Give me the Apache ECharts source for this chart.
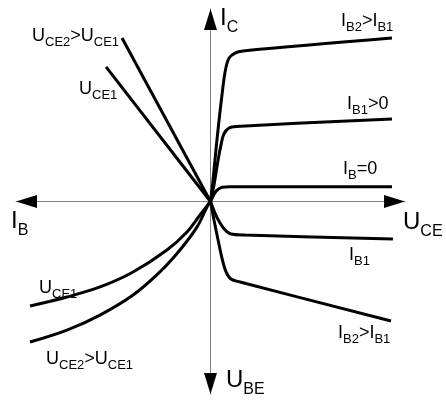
<!DOCTYPE html>
<html>
<head>
<meta charset="utf-8">
<script src="https://cdn.jsdelivr.net/npm/echarts@6/dist/echarts.min.js"></script>
<style>
  html, body { margin: 0; padding: 0; background: #fff; }
  #chart { width: 446px; height: 400px; }
</style>
</head>
<body>
<div id="chart"></div>
<script>
// Transistor characteristics in four quadrants (schematic units, origin at centre).
// Quadrant I: output characteristics I_C(U_CE) for several base currents
const outIB0 = [[0, 0], [0.12, 0.25], [0.3, 0.55], [0.6, 0.74], [1.0, 0.77], [9.33, 0.77]];
const outIB1 = [[0, 0], [0.18, 0.86], [0.39, 2.16], [0.54, 2.94], [0.69, 3.51], [0.95, 3.82], [1.31, 3.9], [9.33, 4.29]];
const outIB2 = [[0, 0], [0.13, 1.12], [0.28, 2.68], [0.44, 4.23], [0.59, 5.53], [0.75, 6.73], [0.95, 7.45], [1.26, 7.71], [1.67, 7.82], [9.33, 8.49]];
// Quadrant II: current transfer I_C(I_B)
const transUCE1 = [[0, 0], [-5.37, 6.99]];
const transUCE2 = [[0, 0], [-4.55, 8.49]];
// Quadrant III: input characteristics U_BE(I_B)
const inUCE1 = [[0, 0], [-0.54, -0.7], [-1.21, -1.58], [-2.24, -2.52], [-3.98, -3.66], [-5.68, -4.44], [-7.38, -4.96], [-9.28, -5.43]];
const inUCE2 = [[0, 0], [-0.13, -0.18], [-0.69, -1.32], [-1.57, -2.52], [-2.6, -3.66], [-3.98, -4.86], [-5.68, -5.9], [-7.38, -6.68], [-9.28, -7.3]];
// Quadrant IV: feedback U_BE(U_CE)
const fbIB1 = [[0, 0], [0.23, -0.6], [0.49, -1.12], [0.75, -1.48], [1.05, -1.69], [1.77, -1.74], [9.38, -1.95]];
const fbIB2 = [[0, 0], [0.18, -0.96], [0.39, -2.0], [0.59, -2.94], [0.8, -3.66], [1.05, -4.03], [1.52, -4.18], [9.28, -6.21]];
// Axis extent and arrow-head positions
const axisMin = -10, axisMax = 10;
const arrowTips = [[axisMax, 0], [axisMin, 0], [0, axisMax], [0, axisMin]];

const FONT = "'Liberation Sans', Arial, Helvetica, sans-serif";

const chart = echarts.init(document.getElementById('chart'), null, { renderer: 'canvas' });

function curve(data, smooth) {
  return {
    type: 'line',
    data: data,
    showSymbol: false,
    smooth: smooth ? 0.35 : false,
    lineStyle: { color: '#000', width: 3 },
    silent: true,
    z: 3
  };
}

// rich-text label: parts alternate main / subscript
const labelRich = {
  m: { fontFamily: FONT, fontSize: 18, lineHeight: 18, padding: [0, 0, 4, 0], verticalAlign: 'bottom', color: '#000' },
  s: { fontFamily: FONT, fontSize: 13, lineHeight: 13, verticalAlign: 'bottom', color: '#000' }
};
const axisRich = {
  m: { fontFamily: FONT, fontSize: 24, lineHeight: 24, padding: [0, 0, 6, 0], verticalAlign: 'bottom', color: '#000' },
  s: { fontFamily: FONT, fontSize: 16, lineHeight: 16, verticalAlign: 'bottom', color: '#000' }
};
function richText(parts) {
  return parts.map((p, i) => '{' + (i % 2 === 0 ? 'm' : 's') + '|' + p + '}').join('');
}
function label(x, y, parts, rich) {
  return {
    type: 'text',
    x: x, y: y,
    silent: true,
    style: {
      text: richText(parts),
      rich: rich,
      align: 'left',
      verticalAlign: 'bottom'
    }
  };
}

const option = {
  backgroundColor: '#fff',
  animation: false,
  grid: { left: 16, right: 41, top: 9, bottom: 6, containLabel: false },
  xAxis: {
    type: 'value', min: axisMin, max: axisMax,
    axisLine: { show: true, onZero: true, lineStyle: { color: '#808080', width: 1 } },
    axisTick: { show: false }, axisLabel: { show: false }, splitLine: { show: false }
  },
  yAxis: {
    type: 'value', min: axisMin, max: axisMax,
    axisLine: { show: true, onZero: true, lineStyle: { color: '#808080', width: 1 } },
    axisTick: { show: false }, axisLabel: { show: false }, splitLine: { show: false }
  },
  series: [
    curve(outIB0, true), curve(outIB1, true), curve(outIB2, true),
    curve(transUCE1, false), curve(transUCE2, false),
    curve(inUCE1, true), curve(inUCE2, true),
    curve(fbIB1, true), curve(fbIB2, true),
    {
      type: 'scatter',
      silent: true,
      z: 4,
      itemStyle: { color: '#000', opacity: 1 },
      data: [
        { value: arrowTips[0], symbol: 'triangle', symbolSize: [13, 21], symbolRotate: -90, symbolOffset: [-10.5, 0] },
        { value: arrowTips[1], symbol: 'triangle', symbolSize: [13, 21], symbolRotate: 90, symbolOffset: [10.5, 0] },
        { value: arrowTips[2], symbol: 'triangle', symbolSize: [13, 21], symbolRotate: 0, symbolOffset: [0, 10.5] },
        { value: arrowTips[3], symbol: 'triangle', symbolSize: [13, 21], symbolRotate: 180, symbolOffset: [0, -10.5] }
      ]
    }
  ],
  graphic: [
    label(32, 49, ['U', 'CE2', '>U', 'CE1'], labelRich),
    label(79, 102, ['U', 'CE1'], labelRich),
    label(341, 34, ['I', 'B2', '>I', 'B1'], labelRich),
    label(347, 117, ['I', 'B1', '>0'], labelRich),
    label(343, 182, ['I', 'B', '=0'], labelRich),
    label(349, 268, ['I', 'B1'], labelRich),
    label(338, 346, ['I', 'B2', '>I', 'B1'], labelRich),
    label(39, 301, ['U', 'CE1'], labelRich),
    label(46, 372, ['U', 'CE2', '>U', 'CE1'], labelRich),
    label(220, 36, ['I', 'C'], axisRich),
    label(403, 240, ['U', 'CE'], axisRich),
    label(11, 239, ['I', 'B'], axisRich),
    label(226, 398, ['U', 'BE'], axisRich)
  ]
};

chart.setOption(option);
</script>
</body>
</html>
